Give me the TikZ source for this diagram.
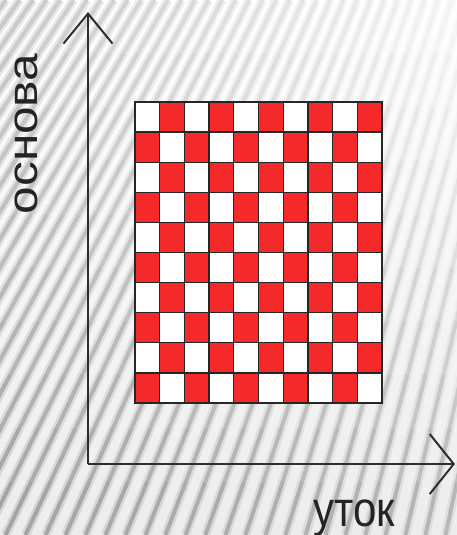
\documentclass[tikz,border=0pt]{standalone}
\usepackage{fontspec}
\setmainfont{Liberation Sans}
\usepackage{graphicx}
\usetikzlibrary{arrows.meta}
\definecolor{chkred}{HTML}{F42A2A}
\definecolor{axgray}{HTML}{2E2E2E}
\definecolor{txtgray}{HTML}{242424}

\begin{document}
\begin{tikzpicture}[
  x=1pt, y=-1pt,
  stripesoft/.style={line width=9pt},
  stripecore/.style={line width=4pt},
  axisline/.style={line width=2pt, axgray},
  gridline/.style={line width=1.3pt, black!85},
  lbl/.style={font=\fontsize{42}{48}\selectfont, text=txtgray, inner sep=0pt},
]

% Canvas (457 x 535)
\useasboundingbox (0,0) rectangle (457,535);

% === Striped background, fanning out and fading to the top right ===
\begin{scope}
  \clip (0,0) rectangle (457,535);
  \shade[top color=white, bottom color=black!7] (0,0) rectangle (457,535);
  \foreach \i in {-12,...,32} {
    \pgfmathsetmacro{\xt}{13.5*\i+154.5}
    \pgfmathsetmacro{\xbt}{20*\i-154.5}
    \foreach \j in {0,...,9} {
      \pgfmathsetmacro{\ya}{53.5*\j}
      \pgfmathsetmacro{\yb}{\ya+53.5}
      \pgfmathsetmacro{\xa}{\xt+(\xbt-\xt)*(\j/10)}
      \pgfmathsetmacro{\xb}{\xt+(\xbt-\xt)*((\j+1)/10)}
      \pgfmathsetmacro{\yn}{((\j+0.5)/10)^1.4}
      \pgfmathsetmacro{\xn}{max(0,min(1,(\xa+\xb)/914))}
      \pgfmathsetmacro{\shadek}{21*(1-\xn)*(1-\yn)+4*\xn*(1-\yn)+37*(1-\xn)*\yn+30*\xn*\yn}
      \pgfmathsetmacro{\softk}{0.45*\shadek}
      \draw[stripesoft, black!\softk] (\xa,\ya) -- (\xb,\yb);
      \draw[stripecore, black!\shadek] (\xa,\ya) -- (\xb,\yb);
    }
  }
\end{scope}

% === Checkerboard 10 x 10 ===
\def\cw{24.7}
\def\ch{30.1}
\fill[white] (135,102) rectangle (382,403);
\foreach \r in {0,...,9} {
  \foreach \c in {0,...,9} {
    \pgfmathtruncatemacro{\odd}{mod(\r+\c,2)}
    \ifnum\odd=1
      \fill[chkred] (135+\c*\cw,102+\r*\ch) rectangle (135+\c*\cw+\cw,102+\r*\ch+\ch);
    \fi
  }
}
\foreach \c in {1,...,9}
  \draw[gridline] (135+\c*\cw,102) -- (135+\c*\cw,403);
\foreach \r in {1,...,9}
  \draw[gridline] (135,102+\r*\ch) -- (382,102+\r*\ch);
\draw[gridline] (135,102) rectangle (382,403);

% === Axes ===
\coordinate (origin) at (88,464);
\coordinate (ytip) at (88,12);
\coordinate (xtip) at (455,464);
\draw[axisline, -{Straight Barb[length=30pt, width=49pt]}] (origin) -- (ytip);
\draw[axisline, -{Straight Barb[length=24pt, width=60pt]}] (origin) -- (xtip);

% === Axis labels ===
\node[lbl, rotate=90, anchor=base] (warp) at (37,134) {\scalebox{1.18}[1]{основа}};
\node[lbl, anchor=base] (weft) at (354,526) {\scalebox{1}[1.18]{уток}};

\end{tikzpicture}
\end{document}
